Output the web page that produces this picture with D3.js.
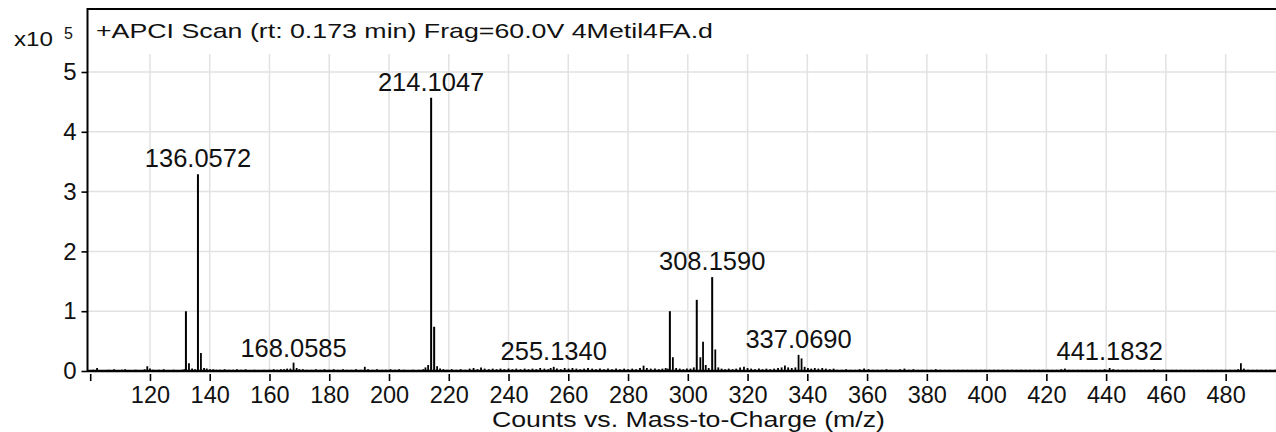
<!DOCTYPE html>
<html><head><meta charset="utf-8">
<script src="https://cdn.jsdelivr.net/npm/d3@7/dist/d3.min.js"></script>
<style>html,body{margin:0;padding:0;background:#fff;}svg{display:block;}</style>
</head><body>
<svg id="c" width="1276" height="432"></svg>
<script>
// ---- data (intensities in units of 10^5 counts) ----
const peakMz = [101.0,102.3,104.1,106.2,108.0,109.5,110.6,111.7,113.4,115.2,117.0,118.2,119.1,120.0,121.1,123.0,124.6,126.3,127.9,129.5,130.8,131.5,
132.04,133.05,134.1,135.1,136.06,137.06,138.1,139.0,140.1,141.2,142.3,143.5,145.0,146.4,147.8,149.1,150.5,152.0,153.3,155.0,156.5,158.2,
160.0,161.4,162.6,163.8,164.9,165.9,167.0,168.06,169.1,170.0,171.2,172.5,174.0,175.5,177.0,178.4,180.0,181.5,183.0,184.6,186.0,187.4,
189.0,190.5,191.9,193.0,194.5,196.0,197.6,199.0,200.5,202.0,203.4,205.0,206.5,208.0,210.0,211.5,212.2,213.1,214.10,215.11,216.1,217.1,
218.2,219.5,221.0,222.5,224.0,225.5,227.0,228.3,229.6,230.8,232.0,233.4,234.7,236.0,237.3,238.6,240.0,241.3,242.6,244.0,245.4,246.7,
248.0,249.3,250.6,252.0,253.3,254.1,255.13,256.2,257.5,258.8,260.1,261.4,262.7,264.0,265.3,266.6,268.0,269.3,270.6,272.0,273.3,274.6,
276.0,277.3,278.7,280.0,281.4,282.7,284.0,285.2,286.3,287.6,289.0,290.3,291.5,292.6,293.3,294.0,295.0,296.1,297.3,298.5,299.7,300.9,
302.0,303.0,304.2,305.1,306.0,307.0,308.16,309.2,310.2,311.3,312.5,313.7,315.0,316.2,317.5,318.8,320.0,321.2,322.5,323.8,325.0,326.3,
327.6,328.9,330.2,331.4,332.5,333.6,334.8,336.0,337.07,338.07,339.1,340.2,341.3,342.5,343.7,345.0,346.2,347.5,348.8,350.0,351.5,353.0,
354.5,356.0,357.5,359.0,360.5,362.0,363.5,365.0,366.5,368.0,369.5,371.0,372.5,374.0,375.5,377.0,378.5,380.0,381.5,383.0,384.5,386.0,
387.5,389.0,390.5,392.0,393.5,395.0,396.5,398.0,399.5,401.0,402.5,404.0,405.5,407.0,408.5,410.0,411.5,413.0,414.5,416.0,417.5,419.0,
420.5,422.0,423.5,425.0,426.2,427.5,429.0,430.5,432.0,433.5,435.0,436.5,438.0,439.5,441.18,442.4,444.0,445.5,447.0,448.5,450.0,451.5,
453.0,454.5,456.0,457.5,459.0,460.5,462.0,463.5,465.0,466.5,468.0,469.5,471.0,472.5,474.0,475.5,477.0,478.5,480.0,481.5,483.0,484.2,
485.1,486.1,487.5,489.0,490.5,492.0,493.5,495.0,496.5];
const peakCounts = [0.02,0.05,0.01,0.02,0.03,0.01,0.02,0.03,0.01,0.02,0.01,0.03,0.08,0.04,0.02,0.02,0.03,0.01,0.02,0.01,0.02,0.03,
1.00,0.13,0.04,0.03,3.29,0.30,0.05,0.04,0.03,0.03,0.02,0.02,0.03,0.02,0.02,0.03,0.02,0.03,0.01,0.02,0.01,0.02,
0.02,0.03,0.02,0.03,0.03,0.04,0.04,0.14,0.05,0.03,0.03,0.02,0.02,0.03,0.02,0.03,0.02,0.03,0.02,0.03,0.02,0.02,
0.03,0.02,0.07,0.03,0.02,0.03,0.02,0.02,0.03,0.02,0.03,0.02,0.01,0.02,0.02,0.03,0.06,0.10,4.57,0.74,0.08,0.04,
0.03,0.02,0.03,0.02,0.03,0.02,0.04,0.05,0.03,0.06,0.04,0.03,0.04,0.03,0.04,0.03,0.04,0.03,0.04,0.03,0.04,0.03,
0.04,0.03,0.05,0.04,0.03,0.05,0.07,0.04,0.03,0.05,0.04,0.05,0.04,0.03,0.04,0.05,0.04,0.03,0.04,0.03,0.04,0.03,
0.04,0.03,0.04,0.03,0.04,0.03,0.05,0.09,0.05,0.04,0.04,0.03,0.04,0.05,0.04,1.00,0.23,0.05,0.04,0.03,0.04,0.04,
0.06,1.19,0.23,0.49,0.10,0.05,1.57,0.36,0.06,0.04,0.03,0.04,0.03,0.04,0.06,0.07,0.05,0.04,0.03,0.04,0.03,0.04,
0.03,0.04,0.05,0.06,0.09,0.06,0.05,0.06,0.27,0.21,0.07,0.05,0.04,0.05,0.04,0.05,0.04,0.03,0.04,0.02,0.02,0.03,
0.02,0.02,0.03,0.04,0.03,0.02,0.02,0.02,0.03,0.02,0.02,0.03,0.04,0.02,0.03,0.02,0.02,0.02,0.02,0.03,0.02,0.02,
0.02,0.02,0.02,0.02,0.02,0.02,0.02,0.02,0.02,0.02,0.02,0.02,0.02,0.02,0.02,0.02,0.02,0.02,0.02,0.02,0.02,0.02,
0.02,0.02,0.02,0.03,0.04,0.02,0.02,0.02,0.02,0.02,0.02,0.02,0.02,0.03,0.05,0.03,0.02,0.02,0.02,0.02,0.02,0.02,
0.02,0.02,0.03,0.02,0.02,0.02,0.02,0.02,0.02,0.02,0.02,0.02,0.02,0.02,0.02,0.02,0.02,0.02,0.02,0.02,0.02,0.03,
0.13,0.04,0.02,0.02,0.02,0.02,0.02,0.02,0.02];
const labelMz = [136.06, 168.06, 214.10, 255.13, 308.16, 337.07, 441.18];
const labelText = ["136.0572","168.0585","214.1047","255.1340","308.1590","337.0690","441.1832"];
const labelCounts = [3.29, 0.12, 4.57, 0.07, 1.57, 0.27, 0.07];
const xTicks = [100,120,140,160,180,200,220,240,260,280,300,320,340,360,380,400,420,440,460,480];
const yTicks = [0,1,2,3,4,5];
const titleText = "+APCI Scan (rt: 0.173 min) Frag=60.0V 4Metil4FA.d";
const xLabel = "Counts vs. Mass-to-Charge (m/z)";

// ---- drawing ----
const W = 1276, H = 432;
const svg = d3.select("#c");
const FONT = "'Liberation Sans', Arial, Helvetica, sans-serif";
const x = d3.scaleLinear().domain([100, 500]).range([90.2, 1285.4]);
const y = d3.scaleLinear().domain([0, 5]).range([371, 72]);
const plotLeft = 87.5, frameTop = 9, gridTop = 54;

svg.append("defs").append("clipPath").attr("id","clip")
  .append("rect").attr("x", plotLeft).attr("y", 0).attr("width", W - plotLeft).attr("height", H);

// grid
const grid = svg.append("g").attr("clip-path","url(#clip)");
grid.selectAll("line.v").data(xTicks.filter(d => d > 100)).join("line")
  .attr("x1", d => x(d)).attr("x2", d => x(d)).attr("y1", gridTop).attr("y2", y(0))
  .attr("stroke", "#e2e2e2").attr("stroke-width", 1.5);
grid.selectAll("line.h").data(yTicks.filter(d => d > 0)).join("line")
  .attr("x1", plotLeft).attr("x2", W).attr("y1", d => y(d)).attr("y2", d => y(d))
  .attr("stroke", "#e2e2e2").attr("stroke-width", 1.5);

// sticks
const sticks = svg.append("g").attr("clip-path","url(#clip)");
sticks.selectAll("line").data(peakMz.map((m,i)=>[m, peakCounts[i]])).join("line")
  .attr("x1", d => x(d[0])).attr("x2", d => x(d[0]))
  .attr("y1", y(0)).attr("y2", d => y(d[1]))
  .attr("stroke", "#000").attr("stroke-width", d => d[1] > 0.5 ? 2 : 1.8);

// frame
svg.append("line").attr("x1", plotLeft).attr("x2", W).attr("y1", frameTop).attr("y2", frameTop)
  .attr("stroke","#000").attr("stroke-width", 2);
svg.append("line").attr("x1", plotLeft).attr("x2", plotLeft).attr("y1", frameTop - 1).attr("y2", y(0) + 1)
  .attr("stroke","#000").attr("stroke-width", 2);

// x axis
const xAxis = d3.axisBottom(x).tickValues(xTicks).tickSize(7).tickPadding(5)
  .tickFormat(d => d === 100 ? "" : d);
const gx = svg.append("g").attr("transform", `translate(0,${y(0) + 3})`).call(xAxis);
gx.select(".domain").remove();
gx.selectAll(".tick line").attr("stroke","#000").attr("stroke-width", 1.6);
gx.selectAll(".tick text").attr("font-family", FONT).attr("font-size", 23.5).attr("fill","#111");
svg.append("line").attr("x1", plotLeft).attr("x2", W).attr("y1", y(0)).attr("y2", y(0))
  .attr("stroke","#000").attr("stroke-width", 2.4);

// y axis
const yAxis = d3.axisLeft(y).tickValues(yTicks).tickSize(6).tickPadding(5).tickFormat(d3.format("d"));
const gy = svg.append("g").attr("transform", `translate(${plotLeft},0)`).call(yAxis);
gy.select(".domain").remove();
gy.selectAll(".tick line").attr("stroke","#000").attr("stroke-width", 1.6);
gy.selectAll(".tick text").attr("font-family", FONT).attr("font-size", 24).attr("fill","#111");

// peak labels
svg.append("g").selectAll("text").data(labelMz.map((m,i)=>({m, t: labelText[i], c: labelCounts[i]}))).join("text")
  .attr("x", d => x(d.m)).attr("y", d => y(d.c) - 7)
  .attr("text-anchor","middle").attr("font-family", FONT).attr("font-size", 25.5).attr("fill","#111")
  .text(d => d.t);

// title
svg.append("text").attr("x", 96).attr("y", 38).attr("font-family", FONT).attr("font-size", 21)
  .attr("textLength", 617).attr("lengthAdjust","spacingAndGlyphs").attr("fill","#111").text(titleText);

// multiplier
svg.append("text").attr("x", 14).attr("y", 45.5).attr("font-family", FONT).attr("font-size", 20)
  .attr("textLength", 39).attr("lengthAdjust","spacingAndGlyphs").attr("fill","#111").text("x10");
svg.append("text").attr("x", 64).attr("y", 39).attr("font-family", FONT).attr("font-size", 16)
  .attr("fill","#111").text("5");

// x label
svg.append("text").attr("x", 492).attr("y", 427).attr("font-family", FONT).attr("font-size", 21.5)
  .attr("textLength", 393).attr("lengthAdjust","spacingAndGlyphs").attr("fill","#111").text(xLabel);
</script>
</body></html>
